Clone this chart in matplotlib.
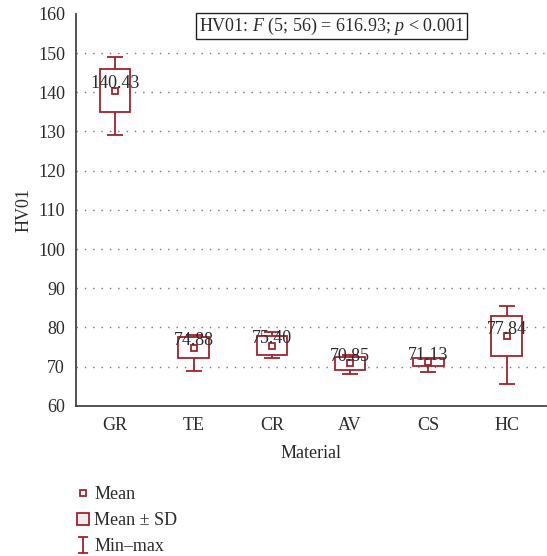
import matplotlib
matplotlib.use('Agg')
import matplotlib.pyplot as plt
from matplotlib.lines import Line2D
from matplotlib.path import Path

plt.rcParams['font.family'] = ['Liberation Serif', 'DejaVu Serif']
plt.rcParams['mathtext.fontset'] = 'custom'
plt.rcParams['mathtext.rm'] = 'Liberation Serif'
plt.rcParams['mathtext.it'] = 'Liberation Serif:italic'

materials = ['GR', 'TE', 'CR', 'AV', 'CS', 'HC']
means = [140.43, 74.88, 75.40, 70.85, 71.13, 77.84]
sds = [5.5, 2.7, 2.3, 1.6, 1.0, 5.1]
mins = [129.2, 68.8, 72.2, 68.1, 68.7, 65.5]
maxs = [149.1, 78.0, 78.8, 73.1, 71.8, 85.4]
yticks = [60, 70, 80, 90, 100, 110, 120, 130, 140, 150, 160]

red = '#a3222c'
txt = '#2b2b2b'
fs = 13

fig = plt.figure(figsize=(5.47, 5.56), dpi=100)
ax = fig.add_axes([0.139, 0.27, 0.859, 0.705])

x = list(range(len(materials)))
lo = [m - mn for m, mn in zip(means, mins)]
hi = [mx - m for m, mx in zip(means, maxs)]
ax.errorbar(x, means, yerr=[lo, hi], fmt='none', ecolor=red, elinewidth=1.3,
            capsize=6, capthick=1.3, zorder=2)
ax.bar(x, [2 * s for s in sds], bottom=[m - s for m, s in zip(means, sds)],
       width=0.39, facecolor='white', edgecolor=red, linewidth=1.3, zorder=3)
ax.plot(x, means, 's', ms=5, mfc='white', mec=red, mew=1.3, zorder=4)
for xi, m in zip(x, means):
    ax.annotate(f'{m:.2f}', (xi, m), xytext=(0, 5), textcoords='offset points',
                ha='center', va='center', fontsize=fs, color=txt, zorder=5)

ax.set_xlim(-0.5, 5.5)
ax.set_ylim(60, 160)
ax.set_yticks(yticks)
ax.set_xticks(x)
ax.set_xticklabels(materials)
ax.tick_params(length=0, labelsize=fs, colors=txt, pad=8)
ax.yaxis.grid(True, linestyle=(0, (1, 5)), color='#777777', linewidth=1)
ax.yaxis.get_gridlines()[-1].set_visible(False)
for s in ['top', 'right']:
    ax.spines[s].set_visible(False)
for s in ['left', 'bottom']:
    ax.spines[s].set_color('#444444')
    ax.spines[s].set_linewidth(1.3)
ax.set_ylabel('HV01', fontsize=fs, color=txt, labelpad=4)
ax.set_xlabel('Material', fontsize=fs, color=txt, labelpad=8)

ax.text(0.543, 0.969, r'HV01: $\it{F}$ (5; 56) = 616.93; $\it{p}$ < 0.001',
        transform=ax.transAxes, ha='center', va='center', fontsize=fs, color=txt,
        bbox=dict(boxstyle='square,pad=0.15', facecolor='white', edgecolor='#222222', linewidth=1))

cap = Path([(-0.6, -1), (0.6, -1), (0, -1), (0, 1), (-0.6, 1), (0.6, 1)],
           [Path.MOVETO, Path.LINETO, Path.MOVETO, Path.LINETO, Path.MOVETO, Path.LINETO])
handles = [
    Line2D([], [], marker='s', ls='none', ms=5, mfc='white', mec=red, mew=1.3),
    Line2D([], [], marker='s', ls='none', ms=9, mfc='#ececf0', mec=red, mew=1.3),
    Line2D([], [], marker=cap, ls='none', ms=11, mfc='none', mec=red, mew=1.3),
]
fig.legend(handles, ['Mean', 'Mean ± SD', 'Min–max'], loc='upper left',
           bbox_to_anchor=(0.105, 0.135 + 11 / 556), frameon=False, fontsize=fs,
           handlelength=1.0, handletextpad=0.15, labelspacing=0.5, labelcolor=txt)

fig.savefig('out.png', dpi=100)
